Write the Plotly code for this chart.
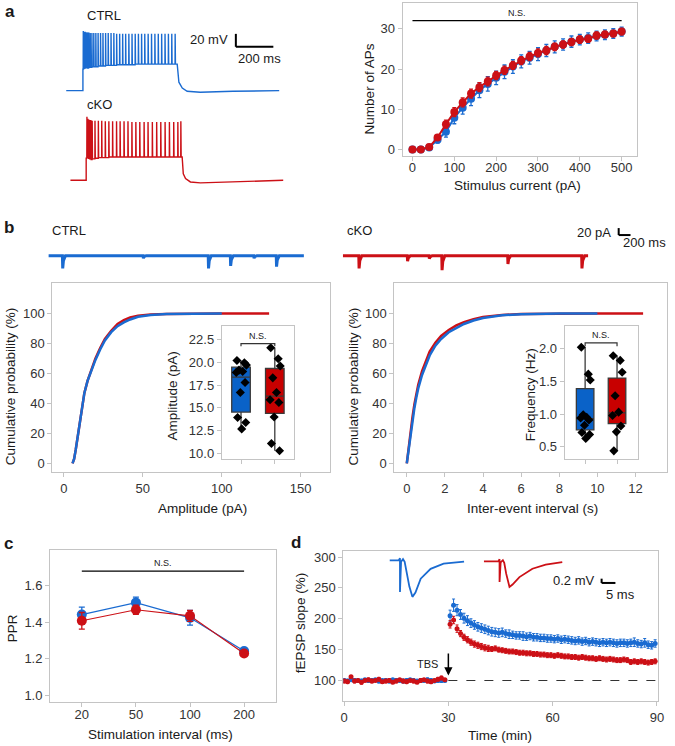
import numpy as np
import plotly.graph_objects as go

W, H = 675, 746
BLUE = "#1a6bd1"
RED = "#cc1016"
FRAME = "#c4c4c4"
TXT = "#1a1a1a"
FONT = "Liberation Sans, Arial, Helvetica, sans-serif"

# ---------------- panel a: example firing traces (ms, mV) ----------------
rest_v = -70
ctrl_pre_t = [-89, 0]
ctrl_spk_t = [2, 7, 12, 18, 24, 31, 39, 48, 58, 69, 81, 94, 107, 121, 135, 150, 165, 180,
              196, 212, 228, 245, 262, 279, 296, 313, 330, 348, 366, 384, 402, 420, 438, 456, 474, 492]
ctrl_spk_peak = [22, 21, 21, 20, 20, 20, 19, 19, 19, 19, 19, 19, 19, 19, 19, 19, 19, 18,
                 18, 18, 18, 18, 18, 18, 18, 18, 18, 18, 18, 18, 18, 18, 18, 18, 18, 18]
ctrl_spk_trough = [-37, -36, -36, -35, -35, -34, -34, -33, -33, -33, -32, -32, -32, -31, -31, -31, -31, -30,
                   -30, -30, -30, -30, -30, -29, -29, -29, -29, -29, -29, -29, -29, -29, -29, -29, -29, -29]
ctrl_off_t = [503, 512, 530, 556, 626, 800, 1047]
ctrl_off_v = [-29, -57, -66, -71, -72.6, -71, -70]

cko_pre_t = [-84, 0]
cko_spk_t = [4, 9, 14, 19, 25, 32, 47, 65, 83, 102, 121, 141, 162, 181, 202, 223, 244, 265,
             286, 309, 330, 353, 376, 398, 421, 444, 467, 489, 505]
cko_spk_peak = [28, 25, 24, 23, 23, 22, 22, 22, 22, 21, 21, 21, 21, 21, 21, 21, 20, 20,
                20, 20, 20, 20, 20, 20, 20, 20, 20, 20, 21]
cko_spk_trough = [-36, -37, -38, -38, -38, -37, -36, -35, -35, -35, -34, -34, -34, -34, -34, -34, -34, -34,
                  -34, -34, -34, -34, -34, -34, -34, -34, -34, -34, -34]
cko_off_t = [512, 518, 530, 556, 609, 785, 1051]
cko_off_v = [-34, -60, -67.4, -72.6, -74.1, -72.6, -70]

# ---------------- panel a: input-output curve ----------------
stim_pa = [0, 20, 40, 60, 80, 100, 120, 140, 160, 180, 200, 220, 240, 260, 280, 300, 320,
           340, 360, 380, 400, 420, 440, 460, 480, 500]
aps_ctrl = [0, 0, 0.5, 2.4, 4.4, 7.9, 10.4, 12.6, 14.7, 16.3, 17.8, 19.3, 20.6, 21.9, 22.8, 23.7,
            24.6, 25.5, 26.1, 26.8, 27.3, 27.7, 28.2, 28.5, 28.8, 29.3]
aps_ctrl_err = [0.2, 0.3, 0.5, 0.8, 1.3, 1.5, 1.6, 1.7, 1.8, 1.8, 1.7, 1.7, 1.7, 1.6, 1.6, 1.6,
                1.5, 1.5, 1.4, 1.4, 1.3, 1.3, 1.2, 1.2, 1.2, 1.1]
aps_cko = [0, 0, 0.6, 3.0, 6.3, 9.3, 11.7, 13.9, 15.5, 16.9, 18.4, 19.7, 20.9, 22.1, 23.1, 24.0,
           24.6, 25.5, 26.1, 26.7, 27.3, 27.5, 28.3, 28.6, 28.8, 29.3]
aps_cko_err = [0.2, 0.3, 0.4, 0.7, 1.0, 1.1, 1.1, 1.1, 1.1, 1.1, 1.0, 1.0, 1.0, 1.0, 1.0, 1.0,
               1.0, 0.9, 0.9, 0.9, 0.9, 0.9, 0.9, 0.8, 0.8, 0.8]

# ---------------- panel b: sEPSC traces (ms, pA) ----------------
sepsc_ctrl_len = 4320
sepsc_ctrl_t = [239, 1603, 2704, 3078, 3474, 3854]
sepsc_ctrl_amp = [-35, -7, -35, -28, -7, -30]
sepsc_cko_len = 4150
sepsc_cko_t = [272, 1092, 1460, 1675, 2789, 4040]
sepsc_cko_amp = [-35, -15, -8, -40, -23, -35]

# cumulative amplitude distribution (pA, %)
amp_x_ctrl = [5.5, 6.5, 7.5, 8.5, 10, 11.5, 13, 15, 17, 20, 23, 26, 30, 34, 38, 42, 47, 55, 65, 80, 100]
amp_cum_ctrl = [0, 3, 9, 16, 28, 38, 47, 55, 61, 69, 76, 82, 87.5, 91.5, 94, 96, 97.8, 99, 99.6, 99.9, 100]
amp_x_cko = [5.5, 6.5, 7.5, 8.5, 10, 11.5, 13, 15, 17, 20, 23, 26, 30, 34, 38, 42, 47, 55, 65, 80, 100, 130]
amp_cum_cko = [0, 3, 9, 16, 28, 38, 47, 55, 61.5, 70, 77, 83, 88.5, 93, 95.5, 97.3, 98.5, 99.3, 99.7, 99.9, 100, 100]

# cumulative inter-event interval distribution (s, %)
iei_x_ctrl = [0, 0.1, 0.2, 0.3, 0.4, 0.5, 0.6, 0.8, 1.0, 1.2, 1.5, 1.8, 2.2, 2.6, 3.0, 3.5, 4.0, 5.0, 6.0, 8.0, 10.0]
iei_cum_ctrl = [0, 10, 20, 29, 37, 44, 50, 59, 66, 72, 78.5, 83, 87.5, 90.5, 93, 95.3, 97, 98.8, 99.5, 99.9, 100]
iei_x_cko = [0, 0.1, 0.2, 0.3, 0.4, 0.5, 0.6, 0.8, 1.0, 1.2, 1.5, 1.8, 2.2, 2.6, 3.0, 3.5, 4.0, 5.0, 6.0, 8.0, 10.0, 12.4]
iei_cum_cko = [0, 11, 22, 31, 39.5, 46.5, 52.5, 61.5, 68.5, 74.5, 80.5, 85, 89, 92, 94.2, 96.2, 97.6, 99.0, 99.6, 99.9, 100, 100]

# per-cell amplitude (pA) and frequency (Hz)
amp_cells_ctrl = [20.2, 19.96, 19.7, 19.15, 19.0, 18.9, 17.8, 16.7, 13.95, 13.4, 12.7]
amp_cells_cko = [21.6, 20.4, 19.6, 18.3, 16.7, 15.9, 15.6, 14.0, 11.1, 10.3]
amp_box_ctrl = dict(q1=14.55, median=18.38, q3=19.47, lowerfence=12.7, upperfence=20.2)
amp_box_cko = dict(q1=14.4, median=16.3, q3=19.33, lowerfence=10.3, upperfence=21.6)
freq_cells_ctrl = [2.02, 1.61, 1.52, 0.99, 0.95, 0.94, 0.91, 0.83, 0.72, 0.69, 0.63]
freq_cells_cko = [1.89, 1.82, 1.64, 1.28, 1.03, 0.98, 0.82, 0.73, 0.44]
freq_box_ctrl = dict(q1=0.76, median=0.93, q3=1.39, lowerfence=0.63, upperfence=2.02)
freq_box_cko = dict(q1=0.855, median=1.02, q3=1.55, lowerfence=0.44, upperfence=1.89)

# ---------------- panel c: paired-pulse ratio ----------------
ppr_interval = ["20", "50", "100", "200"]
ppr_ctrl = [1.441, 1.506, 1.423, 1.242]
ppr_ctrl_err = [0.04, 0.03, 0.04, 0.015]
ppr_cko = [1.407, 1.467, 1.434, 1.229]
ppr_cko_err = [0.045, 0.025, 0.03, 0.015]

# ---------------- panel d: LTP time course ----------------
tbs_time = 30
ltp_t_base = list(np.arange(0, 30, 1.0))
ltp_t_post = list(np.arange(30.5, 90, 1.0))
ltp_ctrl_base = [100, 99, 101, 100, 100, 99, 101, 100, 100, 101, 99, 100, 100, 99, 101,
                 100, 100, 99, 100, 101, 100, 99, 100, 100, 101, 100, 99, 100, 100, 100]
ltp_cko_base = [99, 98, 106, 99, 100, 97, 100, 101, 99, 100, 102, 98, 99, 100, 97,
                99, 101, 99, 98, 100, 99, 97, 100, 101, 99, 98, 100, 102, 104, 101]
ltp_base_err = [3, 3, 2, 3, 2, 3, 2, 3, 3, 2, 3, 2, 3, 3, 2,
                3, 2, 3, 3, 2, 3, 2, 3, 2, 3, 3, 2, 3, 3, 2]
ltp_ctrl_post = [205, 222, 214, 207, 201, 197, 193, 190, 187, 185, 183, 181, 179, 178, 177,
                 178, 176, 175, 174, 173, 173, 172, 171, 172, 170, 170, 169, 169, 168, 168,
                 167, 168, 166, 167, 166, 165, 164, 165, 163, 164, 162, 163, 162, 161, 162,
                 161, 162, 161, 160, 161, 161, 160, 161, 162, 160, 159, 161, 158, 157, 160]
ltp_ctrl_post_err = [9, 10, 9, 8, 8, 8, 7, 7, 7, 7, 7, 7, 7, 7, 7,
                     7, 6, 7, 6, 6, 6, 7, 6, 6, 6, 6, 6, 6, 6, 6,
                     6, 6, 6, 6, 6, 6, 6, 6, 6, 6, 6, 6, 6, 6, 6,
                     6, 6, 6, 6, 6, 6, 6, 6, 7, 6, 6, 7, 6, 6, 6]
ltp_cko_post = [191, 198, 184, 176, 170, 166, 162, 159, 157, 155, 153, 152, 151, 152, 150,
                149, 148, 147, 147, 146, 145, 145, 144, 144, 143, 143, 142, 142, 141, 141,
                140, 141, 140, 139, 139, 138, 138, 137, 138, 137, 136, 136, 135, 136, 135,
                134, 135, 134, 133, 133, 134, 133, 130, 131, 130, 131, 130, 129, 130, 131]
ltp_cko_post_err = [6, 6, 6, 5, 5, 5, 5, 5, 5, 5, 5, 5, 4, 4, 4,
                    4, 4, 4, 4, 4, 4, 4, 4, 4, 4, 4, 4, 4, 4, 4,
                    4, 4, 4, 4, 4, 4, 4, 4, 4, 4, 4, 4, 4, 4, 4,
                    4, 4, 4, 4, 4, 4, 4, 4, 4, 4, 4, 4, 4, 4, 4]

# example fEPSPs (ms, mV)
fepsp_ctrl_t = [0, 3.3, 3.8, 3.8, 4.2, 4.9, 5.5, 6.2, 7.2, 8.3, 9.4, 11.3, 14.9, 19.6, 27]
fepsp_ctrl_v = [0, 0, 0.1, -1.47, -0.06, 0.06, -0.06, -0.48, -1.22, -1.70, -1.5, -0.85, -0.39, -0.15, -0.05]
fepsp_cko_t = [0, 5.25, 5.7, 5.7, 6.1, 6.9, 7.4, 8.1, 9.3, 10.4, 12.9, 17.6, 22.4, 28.4]
fepsp_cko_v = [0, 0, 0.1, -0.96, -0.04, 0.06, -0.06, -0.57, -1.19, -1.08, -0.73, -0.34, -0.15, -0.03]

JIT = [-0.12, 0.1, 0.16, -0.06, 0.05, -0.14, 0.12, -0.02, -0.1, 0.14, 0.02]


# ---------------- helpers ----------------
def dom_x(a, b):
    return [a / W, b / W]


def dom_y(top, bottom):
    return [1 - bottom / H, 1 - top / H]


def px(x, y):
    return x / W, 1 - y / H


def frame_axis(domain, rng, anchor, **kw):
    d = dict(domain=domain, range=rng, anchor=anchor, showline=True, mirror=True,
             linecolor=FRAME, linewidth=1, ticks="outside", ticklen=4, tickcolor=FRAME,
             tickfont=dict(size=13, color="#333", family=FONT), showgrid=False,
             zeroline=False, fixedrange=True)
    d.update(kw)
    return d


def hidden_axis(domain, rng, anchor):
    return dict(domain=domain, range=rng, anchor=anchor, visible=False, fixedrange=True)


def ap_train(pre_t, spk_t, peak, trough, off_t, off_v):
    t = [pre_t[0], pre_t[1], pre_t[1]]
    v = [rest_v, rest_v, trough[0]]
    prev = trough[0]
    for ti, pk, tr in zip(spk_t, peak, trough):
        t += [ti - 0.6, ti, ti + 1.6]
        v += [prev, pk, tr]
        prev = tr
    return t + off_t, v + off_v


def sepsc_trace(length, ev_t, ev_amp):
    t, v = [0], [0]
    for te, a in zip(ev_t, ev_amp):
        t += [te - 2, te + 3, te + 15, te + 50]
        v += [0, a, 0.4 * a, 0]
    t.append(length)
    v.append(0)
    return t, v


fig = go.Figure()


def line(x, y, ax, color, width=1.5):
    fig.add_trace(go.Scatter(x=x, y=y, mode="lines", line=dict(color=color, width=width),
                             xaxis="x" + ax, yaxis="y" + ax, hoverinfo="skip"))


# panel a traces
t, v = ap_train(ctrl_pre_t, ctrl_spk_t, ctrl_spk_peak, ctrl_spk_trough, ctrl_off_t, ctrl_off_v)
line(t, v, "", BLUE, 1.4)
t, v = ap_train(cko_pre_t, cko_spk_t, cko_spk_peak, cko_spk_trough, cko_off_t, cko_off_v)
line(t, v, "2", RED, 1.4)

# panel a IO curve
for y, e, c in [(aps_ctrl, aps_ctrl_err, BLUE), (aps_cko, aps_cko_err, RED)]:
    fig.add_trace(go.Scatter(x=stim_pa, y=y, mode="lines+markers", xaxis="x3", yaxis="y3",
                             line=dict(color=c, width=2), marker=dict(color=c, size=8),
                             error_y=dict(type="data", array=e, color=c, thickness=1.3, width=2)))

# panel b traces
t, v = sepsc_trace(sepsc_ctrl_len, sepsc_ctrl_t, sepsc_ctrl_amp)
line(t, v, "4", BLUE, 3)
t, v = sepsc_trace(sepsc_cko_len, sepsc_cko_t, sepsc_cko_amp)
line(t, v, "5", RED, 3)

# cumulative plots
line(amp_x_cko, amp_cum_cko, "6", RED, 2.5)
line(amp_x_ctrl, amp_cum_ctrl, "6", BLUE, 2.5)
line(iei_x_cko, iei_cum_cko, "8", RED, 2.5)
line(iei_x_ctrl, iei_cum_ctrl, "8", BLUE, 2.5)

# insets
for ax, groups in [("7", [(amp_box_ctrl, amp_cells_ctrl, "#0a62c8"), (amp_box_cko, amp_cells_cko, "#c80000")]),
                   ("9", [(freq_box_ctrl, freq_cells_ctrl, "#0a62c8"), (freq_box_cko, freq_cells_cko, "#c80000")])]:
    for i, (st, pts, c) in enumerate(groups):
        pos = i + 1
        fig.add_trace(go.Box(x=[pos], q1=[st["q1"]], median=[st["median"]], q3=[st["q3"]],
                             lowerfence=[st["lowerfence"]], upperfence=[st["upperfence"]],
                             fillcolor=c, line=dict(color="#3a3a3a", width=1.3), width=0.55,
                             whiskerwidth=0, boxpoints=False, xaxis="x" + ax, yaxis="y" + ax))
        fig.add_trace(go.Scatter(x=[pos + JIT[k % len(JIT)] for k in range(len(pts))], y=pts,
                                 mode="markers", marker=dict(symbol="diamond", size=7, color="black"),
                                 xaxis="x" + ax, yaxis="y" + ax))

# panel c
for y, e, c in [(ppr_ctrl, ppr_ctrl_err, BLUE), (ppr_cko, ppr_cko_err, RED)]:
    fig.add_trace(go.Scatter(x=ppr_interval, y=y, mode="lines+markers", xaxis="x10", yaxis="y10",
                             line=dict(color=c, width=1.2), marker=dict(color=c, size=10),
                             error_y=dict(type="data", array=e, color=c, thickness=1.3, width=3)))

# panel d
for yb, yp, ep, c in [(ltp_ctrl_base, ltp_ctrl_post, ltp_ctrl_post_err, BLUE),
                      (ltp_cko_base, ltp_cko_post, ltp_cko_post_err, RED)]:
    fig.add_trace(go.Scatter(x=ltp_t_base + ltp_t_post, y=yb + yp, mode="markers", xaxis="x11", yaxis="y11",
                             marker=dict(color=c, size=5),
                             error_y=dict(type="data", array=ltp_base_err + ep, color=c, thickness=1, width=1.5)))
line(fepsp_ctrl_t, fepsp_ctrl_v, "12", BLUE, 1.8)
line(fepsp_cko_t, fepsp_cko_v, "13", RED, 1.8)

layout_axes = {
    "xaxis": hidden_axis(dom_x(60, 290), [-110.5, 1100], "y"),
    "yaxis": hidden_axis(dom_y(20, 100), [-85.4, 37.7], "x"),
    "xaxis2": hidden_axis(dom_x(60, 290), [-127.9, 1082.6], "y2"),
    "yaxis2": hidden_axis(dom_y(105, 195), [-93.1, 45.4], "x2"),
    "xaxis3": frame_axis(dom_x(405, 643), [-23.6, 537.7], "y3", tickvals=[0, 100, 200, 300, 400, 500],
                         ticklabelstandoff=-5),
    "yaxis3": frame_axis(dom_y(2, 156), [-1.7, 36.4], "x3", tickvals=[0, 10, 20, 30]),
    "xaxis4": hidden_axis(dom_x(46, 305), [0, sepsc_ctrl_len], "y4"),
    "yaxis4": hidden_axis(dom_y(239, 271), [-41.9, 45.8], "x4"),
    "xaxis5": hidden_axis(dom_x(344.4, 593.2), [0, sepsc_cko_len], "y5"),
    "yaxis5": hidden_axis(dom_y(239, 271), [-41.9, 45.8], "x5"),
    "xaxis6": frame_axis(dom_x(50, 331), [-7.3, 168.3], "y6", tickvals=[0, 50, 100, 150]),
    "yaxis6": frame_axis(dom_y(283, 473), [-5.8, 120.4], "x6", tickvals=[0, 20, 40, 60, 80, 100]),
    "xaxis7": frame_axis(dom_x(221.7, 295), [0.43, 2.57], "y7", tickvals=[1, 2], ticktext=["", ""]),
    "yaxis7": frame_axis(dom_y(326.7, 460), [9.38, 23.95], "x7",
                         tickvals=[10, 12.5, 15, 17.5, 20, 22.5], tickformat=".1f"),
    "xaxis8": frame_axis(dom_x(396.7, 672.7), [-0.65, 13.64], "y8", tickvals=[0, 2, 4, 6, 8, 10, 12]),
    "yaxis8": frame_axis(dom_y(283, 473), [-5.8, 120.4], "x8", tickvals=[0, 20, 40, 60, 80, 100]),
    "xaxis9": frame_axis(dom_x(569.3, 644), [0.36, 2.67], "y9", tickvals=[1, 2], ticktext=["", ""]),
    "yaxis9": frame_axis(dom_y(326.7, 460), [0.313, 2.339], "x9",
                         tickvals=[0.5, 1.0, 1.5, 2.0], tickformat=".1f"),
    "xaxis10": frame_axis(dom_x(47.7, 276.7), [-0.587, 3.59], "y10", type="category",
                          ticklabelstandoff=-4),
    "yaxis10": frame_axis(dom_y(551.7, 704.3), [0.962, 1.79], "x10",
                          tickvals=[1.0, 1.2, 1.4, 1.6], tickformat=".1f"),
    "xaxis11": frame_axis(dom_x(345, 664.3), [-0.2, 90.45], "y11", tickvals=[0, 30, 60, 90]),
    "yaxis11": frame_axis(dom_y(552.3, 703.3), [66, 309.7], "x11", tickvals=[100, 150, 200, 250, 300]),
    "xaxis12": hidden_axis(dom_x(391.7, 475.7), [0, 30], "y12"),
    "yaxis12": hidden_axis(dom_y(553, 603), [-1.92, 0.405], "x12"),
    "xaxis13": hidden_axis(dom_x(487.3, 571.3), [0, 30], "y13"),
    "yaxis13": hidden_axis(dom_y(554, 604), [-1.92, 0.405], "x13"),
}

ann = []


def text(x, y, s, size=13, xanchor="center", angle=0, bold=False):
    fx, fy = px(x, y)
    ann.append(dict(x=fx, y=fy, xref="paper", yref="paper", text=("<b>%s</b>" % s) if bold else s,
                    showarrow=False, xanchor=xanchor, yanchor="middle", textangle=angle,
                    font=dict(size=size, color=TXT, family=FONT)))


# panel letters
text(7, 11, "a", 17, bold=True)
text(6, 227, "b", 17, bold=True)
text(6, 545, "c", 17, bold=True)
text(297, 544, "d", 17, bold=True)

# panel a texts
text(83, 15, "CTRL", 13, "left")
text(83, 104, "cKO", 13, "left")
text(230, 39, "20 mV", 13, "right")
text(236, 58, "200 ms", 13, "left")
text(521.7, 185, "Stimulus current (pA)", 13.5)
text(371.7, 88, "Number of APs", 13.5, angle=-90)

# panel b texts
text(48, 230, "CTRL", 13, "left")
text(346.5, 230, "cKO", 13, "left")
text(618, 232, "20 pA", 13, "right")
text(674, 242, "200 ms", 13, "right")
text(201.7, 510, "Amplitude (pA)", 13.5)
text(7.3, 386.7, "Cumulative probability (%)", 13.5, angle=-90)
text(536.7, 510, "Inter-event interval (s)", 13.5)
text(355, 386.7, "Cumulative probability (%)", 13.5, angle=-90)
text(171.7, 396.7, "Amplitude (pA)", 13.5, angle=-90)
text(535, 395, "Frequency (Hz)", 13.5, angle=-90)

# panel c / d texts
text(160, 736.7, "Stimulation interval (ms)", 13.5)
text(10, 630, "PPR", 13.5, angle=-90)
text(503.3, 737.3, "Time (min)", 13.5)
text(301.7, 625, "fEPSP slope (%)", 13.5, angle=-90)
text(601.7, 581.7, "0.2 mV", 13, "right")
text(609, 596, "5 ms", 13, "left")

# significance labels
for ax, xc, yv in [("3", (stim_pa[0] + stim_pa[-1]) / 2, 32), ("10", 1.5, 1.678), ("7", 1.5, 22.06), ("9", 1.5, 2.087)]:
    ann.append(dict(x=xc, y=yv, xref="x" + ax, yref="y" + ax, text="N.S.", showarrow=False,
                    yanchor="bottom", yshift=1, font=dict(size=9, color=TXT, family=FONT)))

# TBS arrow
ann.append(dict(x=tbs_time, y=108, ax=tbs_time, ay=146, xref="x11", yref="y11", axref="x11", ayref="y11",
                text="", showarrow=True, arrowhead=2, arrowsize=1.1, arrowwidth=1.5, arrowcolor="black"))
ann.append(dict(x=27.7, y=127, xref="x11", yref="y11", text="TBS", showarrow=False, xanchor="right",
                font=dict(size=11, color=TXT, family=FONT)))

shapes = []
# N.S. bars
shapes.append(dict(type="line", xref="x3", yref="y3", x0=stim_pa[0], x1=stim_pa[-1], y0=32, y1=32,
                   line=dict(color="black", width=1.2)))
shapes.append(dict(type="line", xref="x10", yref="y10", x0=0, x1=3, y0=1.678, y1=1.678,
                   line=dict(color="black", width=1.2)))
for ax, yb, drop in [("7", 22.06, 0.3), ("9", 2.087, 0.05)]:
    shapes.append(dict(type="path", xref="x" + ax, yref="y" + ax,
                       path="M1,%g L1,%g L2,%g L2,%g" % (yb - drop, yb, yb, yb - drop),
                       line=dict(color="#333", width=1.2)))
# dashed baseline
shapes.append(dict(type="line", xref="x11", yref="y11", x0=tbs_time, x1=90, y0=100, y1=100,
                   line=dict(color="#333", width=1.2, dash="dash")))


# scale bars (paper pixels)
def bar(x0, y0, x1, y1):
    a, b = px(x0, y0)
    c, d = px(x1, y1)
    shapes.append(dict(type="line", xref="paper", yref="paper", x0=a, y0=b, x1=c, y1=d,
                       line=dict(color="black", width=2)))


bar(236, 33, 236, 46)
bar(236, 46, 274, 46)
bar(624, 228, 624, 235)
bar(624, 235, 636, 235)
bar(606.7, 580, 606.7, 584.3)
bar(606.7, 584.3, 620.7, 584.3)

fig.update_layout(width=W, height=H, margin=dict(l=0, r=0, t=0, b=0), autosize=False,
                  showlegend=False, paper_bgcolor="white", plot_bgcolor="rgba(0,0,0,0)",
                  font=dict(family=FONT, color=TXT), annotations=ann, shapes=shapes,
                  **layout_axes)

# drop the default page margin so the figure sits at the window's corner
fig.write_html("out.html", config={"displayModeBar": False},
               post_script="document.body.style.margin='0';")
